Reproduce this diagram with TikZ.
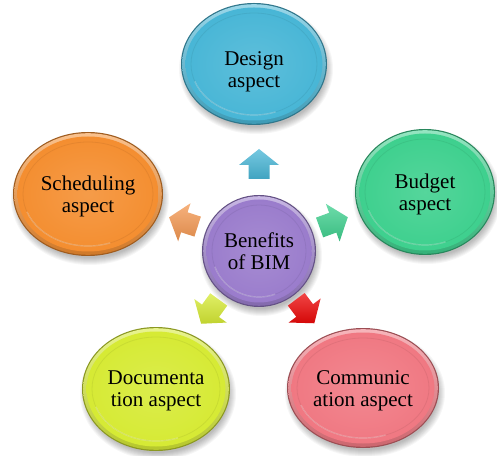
\documentclass[tikz,border=0pt]{standalone}
\usepackage{fontspec}
\setmainfont{Liberation Serif}
\usetikzlibrary{shapes.geometric}

\definecolor{cDesign}{RGB}{72,182,214}
\definecolor{cBudget}{RGB}{62,208,142}
\definecolor{cSched}{RGB}{244,142,48}
\definecolor{cDoc}{RGB}{214,234,52}
\definecolor{cComm}{RGB}{240,120,130}
\definecolor{cCenter}{RGB}{154,124,204}
\definecolor{cArrowSched}{RGB}{244,152,82}
\definecolor{cArrowComm}{RGB}{236,8,8}

\tikzset{
  label text/.style={font=\fontsize{21}{22}\selectfont, align=center, text=black},
  bubble node/.style={ellipse, inner sep=0pt, label text},
}

% glossy disc with soft drop shadow:
% name, centre, x radius, y radius, colour, text, vertical text offset
\newcommand\glossydisc[7]{%
  \begin{scope}[shift={(#2)}]
    \foreach \k in {0,...,7}
      \fill[black, opacity=0.035] (2,-5) ellipse ({#3-3+\k} and {#4-3+\k});
    \fill[#5!65!black] (0,0) ellipse ({#3} and {#4});
    \shade[top color=#5!55!white, bottom color=#5!85!black] (0,0) ellipse ({#3-1.2} and {#4-1.2});
    \shade[inner color=#5!88!white, outer color=#5] (0,0) ellipse ({#3-4.5} and {#4-4.5});
    \draw[white, opacity=0.35, line width=1.2] (0,0) ++(200:{#3-10} and {#4-10}) arc (200:290:{#3-10} and {#4-10});
    \draw[#5!80!black, opacity=0.3, line width=0.8] (0,0) ellipse ({#3-10} and {#4-10});
  \end{scope}
  \node[bubble node, minimum width=2*#3, minimum height=2*#4] (#1) at (#2) {};
  \node[label text] (#1-text) at ([yshift=#7]#1.center) {#6};%
}

% block arrow pointing away from the centre disc: position, angle, colour
\newcommand\blockarrow[3]{%
  \shade[top color=#3!75!white, bottom color=#3!90!black, shift={(#1)}, rotate=#2]
    (15,0) -- (-1,20) -- (-1,10.5) -- (-15,10.5) -- (-15,-10.5) -- (-1,-10.5) -- (-1,-20) -- cycle;%
}

\begin{document}
\begin{tikzpicture}[x=1pt, y=1pt]
  \useasboundingbox (0,0) rectangle (497,455);
  \fill[white] (0,0) rectangle (497,455);

  \glossydisc{design}{254,391}{73}{61}{cDesign}{Design\\aspect}{-8}
  \glossydisc{budget}{425,263}{70}{63}{cBudget}{Budget\\aspect}{-2}
  \glossydisc{sched}{88,261}{75}{62}{cSched}{Scheduling\\aspect}{-2}
  \glossydisc{doc}{156,66}{74}{62}{cDoc}{Documenta\\tion aspect}{-2}
  \glossydisc{comm}{363,67}{76}{60}{cComm}{Communic\\ation aspect}{-3}
  \glossydisc{center}{259,204}{57}{56}{cCenter}{Benefits\\of BIM}{0}

  % arrow positions around the centre disc
  \path (center.center) ++(90:87)   coordinate (toDesign);
  \path (center.center) ++(21:80)   coordinate (toBudget);
  \path (center.center) ++(159:81)  coordinate (toSched);
  \path (center.center) ++(231:78)  coordinate (toDoc);
  \path (center.center) ++(-52.5:76) coordinate (toComm);

  \blockarrow{toDesign}{90}{cDesign}
  \blockarrow{toBudget}{20}{cBudget}
  \blockarrow{toSched}{162}{cArrowSched}
  \blockarrow{toDoc}{234}{cDoc}
  \blockarrow{toComm}{-53}{cArrowComm}
\end{tikzpicture}
\end{document}
